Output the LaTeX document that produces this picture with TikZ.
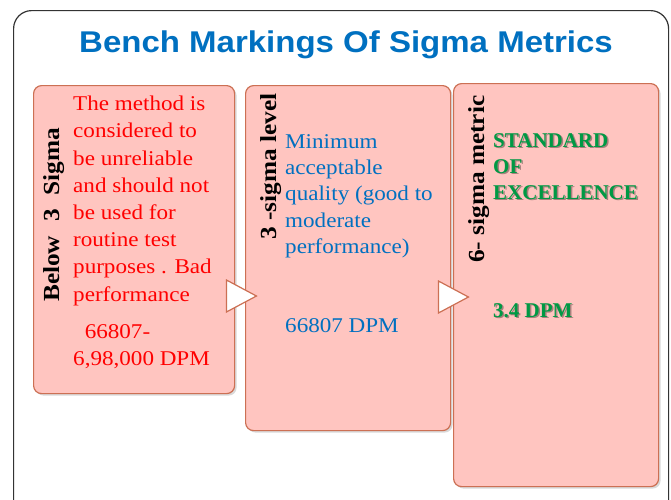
\documentclass[tikz,border=0pt]{standalone}
\usepackage{fontspec}
\setmainfont{Liberation Serif}
\newfontfamily\bodyfont[FakeStretch=1.1]{Liberation Serif}
\newfontfamily\headfont[FakeStretch=1.1]{Liberation Sans}
\usetikzlibrary{shapes.geometric,shadows}
\definecolor{boxpink}{RGB}{255,197,192}
\definecolor{boxedge}{RGB}{204,112,84}
\definecolor{headblue}{RGB}{0,112,192}
\definecolor{goodgreen}{RGB}{0,153,68}
\definecolor{badred}{RGB}{255,0,0}
\begin{document}
\begin{tikzpicture}[x=1pt,y=-1pt,
    metricbox/.style={draw=boxedge, line width=1.2pt, fill=boxpink, rounded corners=8pt, anchor=north west,
      drop shadow={shadow xshift=2pt, shadow yshift=-2pt, opacity=.3}},
    chevron/.style={isosceles triangle, isosceles triangle stretches, draw=boxedge, line width=1.2pt, fill=white,
      inner sep=0pt, minimum width=32pt, minimum height=30pt, anchor=apex},
    sidelabel/.style={rotate=90, anchor=base west, inner sep=0pt, font=\bodyfont\fontsize{23}{26}\selectfont\bfseries},
    bodytext/.style={anchor=north west, inner sep=0pt, align=left, font=\bodyfont\fontsize{21}{27.2}\selectfont},
    greentext/.style={anchor=north west, inner sep=0pt, align=left, font=\fontsize{21}{26}\selectfont\bfseries}]
    \useasboundingbox (0,0) rectangle (671,499);
    \clip (0,0) rectangle (671,499);
    \node[draw=black!80, line width=1.2pt, rounded corners=18pt, minimum width=655pt, minimum height=520pt, anchor=north west] (frame) at (13,10) {};
    \node[font=\headfont\bfseries\fontsize{30}{36}\selectfont, text=headblue, anchor=base] (title) at (346,52) {Bench Markings Of Sigma Metrics};

    \node[metricbox, minimum width=201pt, minimum height=308pt] (low) at (33,85) {};
    \node[metricbox, minimum width=205pt, minimum height=345pt] (mid) at (245,85) {};
    \node[metricbox, minimum width=205pt, minimum height=403pt] (top) at (453,83) {};
    \node[chevron] (lowtomid) at (258,296) {};
    \node[chevron] (midtotop) at (470,297) {};

    \node[sidelabel] (lowlabel) at (59,302) {Below\hspace{14pt}3\hspace{14pt}Sigma};
    \node[sidelabel] (midlabel) at (276,240) {3 -sigma level};
    \node[sidelabel] (toplabel) at (484,263) {6- sigma metric};

    \node[bodytext, text=badred] (lowtext) at (73,96) {The method is\\considered to\\be unreliable\\and should not\\be used for\\routine test\\purposes . Bad\\performance};
    \node[bodytext, text=badred] (lowdpm) at (73,324) {\ \ 66807-\\6,98,000 DPM};
    \node[bodytext, text=headblue, font=\bodyfont\fontsize{21}{26.3}\selectfont] (midtext) at (285,134) {Minimum\\acceptable\\quality (good to\\moderate\\performance)};
    \node[bodytext, text=headblue] (middpm) at (285,318) {66807 DPM};
    \node[greentext, text=black, opacity=.35] (toptextshade) at (494.5,134.5) {STANDARD\\OF\\EXCELLENCE};
    \node[greentext, text=goodgreen] (toptext) at (493,133) {STANDARD\\OF\\EXCELLENCE};
    \node[greentext, text=black, opacity=.35] (topdpmshade) at (494.5,304.5) {3.4 DPM};
    \node[greentext, text=goodgreen] (topdpm) at (493,303) {3.4 DPM};
\end{tikzpicture}
\end{document}
